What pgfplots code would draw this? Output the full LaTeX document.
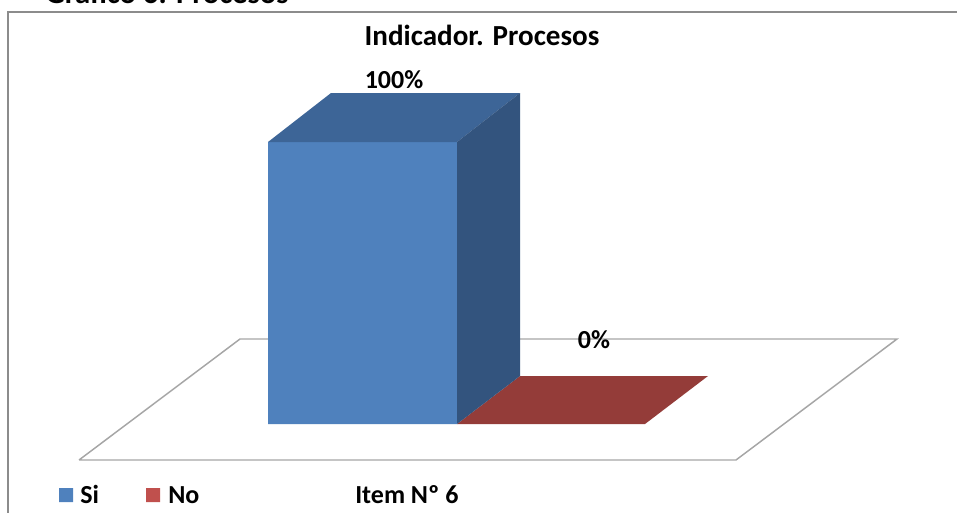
\documentclass[border=0pt]{standalone}
\usepackage{pgfplots}
\pgfplotsset{compat=1.18}
\usepackage{fontspec}
\setmainfont{Carlito}
\definecolor{barblue}{HTML}{4F81BD}
\definecolor{bartop}{HTML}{3D6597}
\definecolor{barside}{HTML}{33547E}
\definecolor{redtop}{HTML}{943C39}
\definecolor{legred}{HTML}{C0504D}
\definecolor{floorgray}{HTML}{A6A6A6}
\definecolor{framegray}{HTML}{8C8C8C}
\begin{document}
\begin{tikzpicture}
\clip (0,0) rectangle (717.75pt,384pt);
\begin{axis}[at={(0,0)}, anchor=south west, scale only axis,
  width=717.75pt, height=384pt, xmin=0, xmax=957, ymin=0, ymax=512,
  y dir=reverse, hide axis, clip=false, no markers]
% frame
\addplot[draw=framegray, line width=1.5pt] coordinates {(8,530) (8,12) (975,12)};
% floor
\addplot[fill=white, draw=floorgray, line width=1.1pt] coordinates {(79,460) (240,339) (897,339) (736,460) (79,460)};
% red bar (0%)
\addplot[fill=redtop, draw=none] coordinates {(457,424) (520,376) (708,376) (645,424) (457,424)};
% blue bar (100%)
\addplot[fill=barblue, draw=none] coordinates {(268,424) (457,424) (457,142) (268,142) (268,424)};
\addplot[fill=bartop, draw=none] coordinates {(268,142) (331,93) (520,93) (457,142) (268,142)};
\addplot[fill=barside, draw=none] coordinates {(457,142) (520,93) (520,376) (457,424) (457,142)};
% legend squares
\addplot[fill=barblue, draw=none] coordinates {(59,488) (73,488) (73,502) (59,502) (59,488)};
\addplot[fill=legred, draw=none] coordinates {(146,488) (160,488) (160,502) (146,502) (146,488)};
% texts
\node[anchor=base west, font=\bfseries\fontsize{23}{24}\selectfont, inner sep=0pt] at (axis cs:45,3) {Gráfico 6. Procesos};
\node[anchor=base, font=\bfseries\fontsize{21.8}{23}\selectfont, inner sep=0pt] at (axis cs:482,45) {Indicador. Procesos};
\node[anchor=base, font=\bfseries\fontsize{19.5}{21}\selectfont, inner sep=0pt] at (axis cs:394,88) {100\%};
\node[anchor=base, font=\bfseries\fontsize{19.5}{21}\selectfont, inner sep=0pt] at (axis cs:594,348) {0\%};
\node[anchor=base west, font=\bfseries\fontsize{19.5}{21}\selectfont, inner sep=0pt] at (axis cs:80,503) {Si};
\node[anchor=base west, font=\bfseries\fontsize{19.5}{21}\selectfont, inner sep=0pt] at (axis cs:168,503) {No};
\node[anchor=base west, font=\bfseries\fontsize{19.5}{21}\selectfont, inner sep=0pt] at (axis cs:355,503) {Item Nº 6};
\end{axis}
\end{tikzpicture}
\end{document}
